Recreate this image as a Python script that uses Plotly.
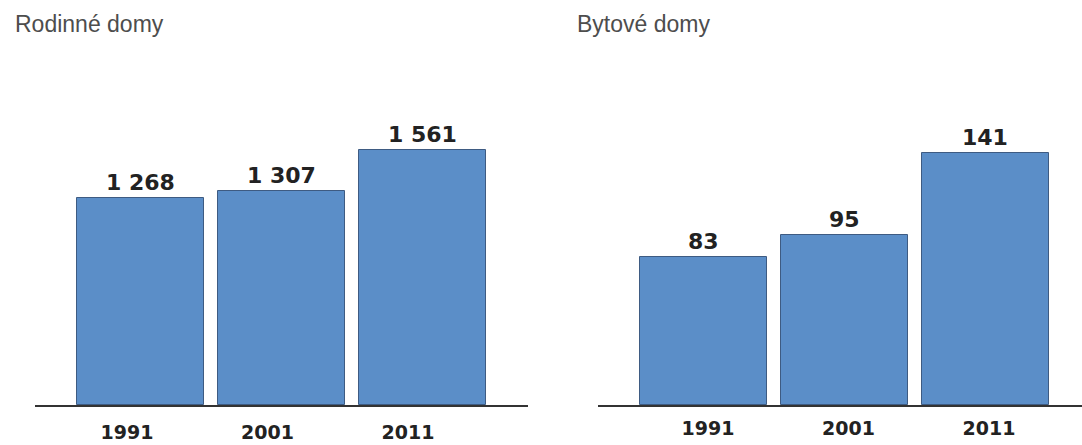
import plotly.graph_objects as go
from plotly.subplots import make_subplots

years = ["1991", "2001", "2011"]
rodinne = [1268, 1307, 1561]
bytove = [83, 95, 141]
titles = ["Rodinné domy", "Bytové domy"]

W, H = 1082, 445
BAR = "#5b8ec8"
EDGE = "#3e5b82"
TXT = "#222222"

def fmt(v):
    return f"{v:,}".replace(",", " ")

fig = make_subplots(rows=1, cols=2)
xs = [0, 1, 2]
for col, vals in [(1, rodinne), (2, bytove)]:
    fig.add_trace(go.Bar(x=xs, y=vals, width=0.904, marker=dict(color=BAR, line=dict(color=EDGE, width=1)),
                         showlegend=False, hoverinfo="skip"), row=1, col=col)
    xref = "x" if col == 1 else "x2"
    yref = "y" if col == 1 else "y2"
    for x, v in zip(xs, vals):
        fig.add_annotation(x=x, y=v, xref=xref, yref=yref, text=fmt(v), showarrow=False,
                           yanchor="bottom", yshift=1,
                           font=dict(family="DejaVu Sans", size=22, color=TXT, weight="bold"))

ybot = (H - 405) / H
ytop = (H - 60) / H
fig.update_layout(
    width=W, height=H, margin=dict(l=0, r=0, t=0, b=0),
    paper_bgcolor="white", plot_bgcolor="white", bargap=0,
    xaxis=dict(domain=[35 / W, 528 / W], range=[-0.754, 2.754], tickvals=xs, ticktext=years,
               showline=True, linecolor="#333333", linewidth=2, showgrid=False, zeroline=False,
               automargin=False,
               ticks="", ticklabelstandoff=9, ticklabelshift=-14,
               tickfont=dict(family="DejaVu Sans", size=19, color=TXT, weight="bold")),
    xaxis2=dict(domain=[598 / W, 1.0], range=[-0.754, 2.69], tickvals=xs, ticktext=years,
                showline=True, linecolor="#333333", linewidth=2, showgrid=False, zeroline=False,
                automargin=False,
                ticks="", ticklabelstandoff=5, ticklabelshift=4,
                tickfont=dict(family="DejaVu Sans", size=19, color=TXT, weight="bold")),
    yaxis=dict(domain=[ybot, ytop], range=[0, 345 / 0.1634], visible=False, automargin=False),
    yaxis2=dict(domain=[ybot, ytop], range=[0, 345 / 1.787], visible=False, automargin=False),
)

for t, px in zip(titles, [13, 575]):
    fig.add_annotation(x=px / W, y=1 - 24 / H, xref="paper", yref="paper", text=t, showarrow=False,
                       xanchor="left", yanchor="middle",
                       font=dict(family="Liberation Sans", size=23, color="#4d4d4d"))

fig.write_html("out.html")
